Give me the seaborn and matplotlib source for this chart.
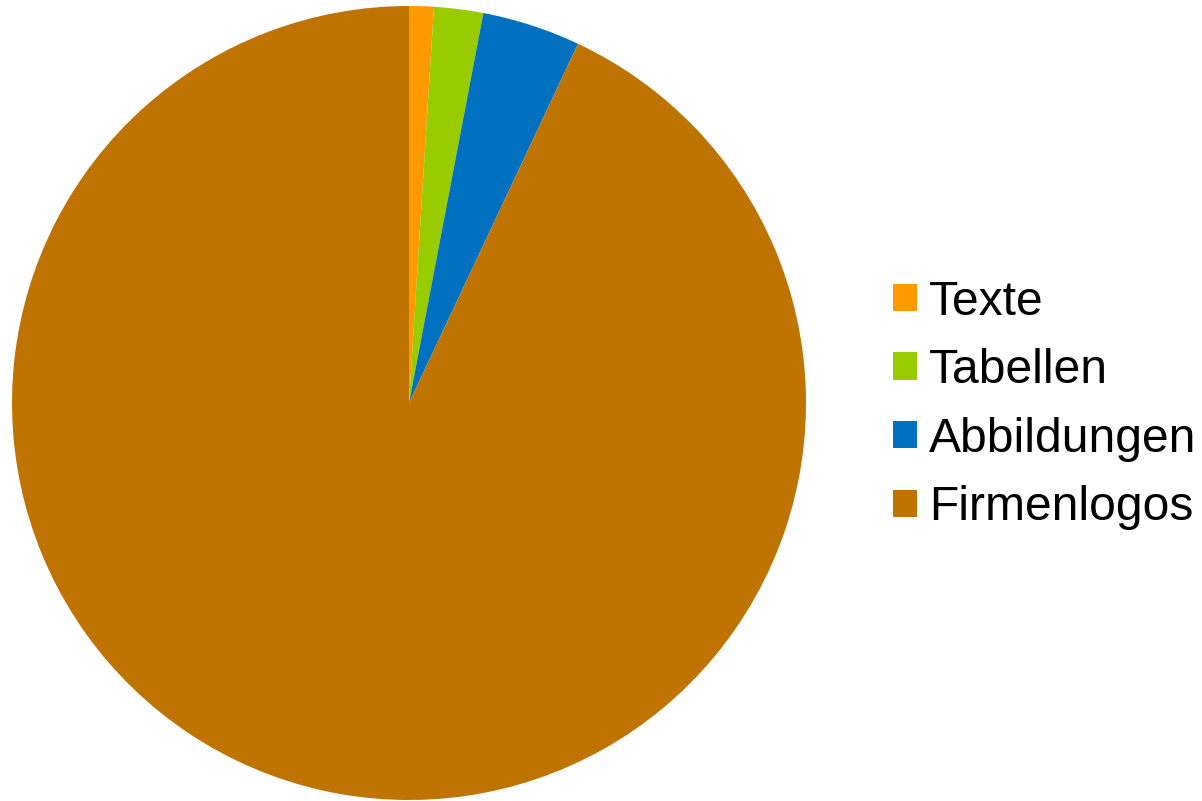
"""
Pie chart: share of content types
"""
import matplotlib
matplotlib.use("Agg")
import matplotlib.pyplot as plt
from matplotlib.patches import Patch
import seaborn as sns

categories = ['Texte', 'Tabellen', 'Abbildungen', 'Firmenlogos']
shares = [1, 2, 4, 93]
colors = ['#FF9900', '#99CC00', '#0070C0', '#BF7300']

sns.set_theme(style="white")
plt.rcParams['font.family'] = ['Liberation Sans', 'DejaVu Sans']

fig = plt.figure(figsize=(12.02, 8.01), dpi=100)
ax = fig.add_axes([12 / 1202, 1 / 801, 794 / 1202, 794 / 801])

ax.pie(shares, colors=colors, startangle=90, counterclock=False,
       radius=1, wedgeprops=dict(linewidth=0))
ax.set_xlim(-1, 1)
ax.set_ylim(-1, 1)
ax.set_aspect('equal')
ax.axis('off')

handles = [Patch(facecolor=c, edgecolor='none') for c in colors]
leg = fig.legend(handles, categories, loc='center left',
                 bbox_to_anchor=(893 / 1202, 396 / 801), frameon=False,
                 fontsize=34.6, handlelength=0.5, handleheight=0.5,
                 handletextpad=0.25, labelspacing=0.49, borderpad=0,
                 borderaxespad=0)
for t in leg.get_texts():
    t.set_color('black')

plt.savefig('out.png', dpi=100)
